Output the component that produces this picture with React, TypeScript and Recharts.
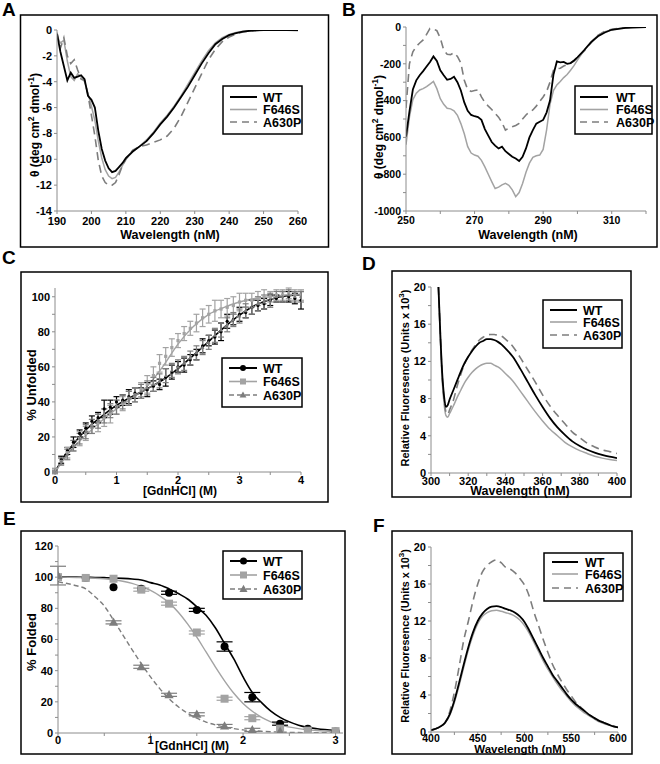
import React from "react";
import {
  LineChart, Line, ComposedChart, Scatter, ErrorBar, XAxis, YAxis,
} from "recharts";

const FONT = "'Liberation Sans', Arial, Helvetica, sans-serif";
const WT_COLOR = "#000000";
const F646S_COLOR = "#a3a3a3";
const A630P_COLOR = "#7d7d7d";
const AXIS_COLOR = "#8c8c8c";
const DASH = "8 5";

// ---- A: far-UV CD (deg cm2 dmol-1, x 10^3) ----
const farUvNm = [190, 191, 192, 193, 194, 195, 196, 197, 198, 199, 200, 201, 202, 203, 204, 205, 206, 207, 208, 209, 210, 212, 214, 216, 218, 220, 222, 224, 226, 228, 230, 232, 234, 236, 238, 240, 242, 244, 246, 248, 250, 255, 260];
const farUvWt = [-0.3, -1.7, -2.8, -3.9, -3.3, -3.7, -3.6, -3.5, -3.8, -5.1, -5.4, -6.0, -7.8, -9.2, -10.1, -10.7, -11.0, -10.9, -10.6, -10.3, -9.9, -9.4, -9.0, -8.6, -8.0, -7.3, -6.7, -6.0, -5.2, -4.4, -3.5, -2.6, -1.8, -1.1, -0.7, -0.4, -0.25, -0.12, -0.06, -0.03, 0, 0, 0];
const farUvF646S = [-0.6, -1.0, -0.8, -2.4, -3.6, -3.9, -3.4, -3.6, -4.0, -4.9, -5.9, -7.0, -8.6, -9.9, -10.8, -11.3, -11.5, -11.4, -11.0, -10.5, -10.0, -9.4, -9.0, -8.5, -7.9, -7.2, -6.6, -5.9, -5.1, -4.2, -3.3, -2.4, -1.6, -1.0, -0.6, -0.35, -0.2, -0.1, -0.05, -0.02, 0, 0, -0.05];
const farUvA630P = [-0.2, -1.4, -0.6, -2.0, -2.6, -2.3, -3.1, -3.8, -3.9, -5.0, -6.6, -8.2, -10.1, -11.3, -11.8, -12.0, -12.0, -11.8, -11.2, -10.5, -10.0, -9.3, -9.0, -8.9, -8.7, -8.5, -8.2, -7.6, -6.7, -5.6, -4.5, -3.4, -2.3, -1.5, -0.9, -0.55, -0.3, -0.15, -0.08, -0.04, 0, 0, 0];
const farUvXTicks = [190, 200, 210, 220, 230, 240, 250, 260];
const farUvYTicks = [-14, -12, -10, -8, -6, -4, -2, 0];

// ---- B: near-UV CD ----
const nearUvNm = [250, 251, 252, 253, 254, 255, 256, 257, 258, 259, 260, 261, 262, 263, 264, 265, 266, 267, 268, 269, 270, 271, 272, 273, 274, 275, 276, 277, 278, 279, 280, 281, 282, 283, 284, 285, 286, 287, 288, 289, 290, 291, 292, 293, 294, 295, 296, 297, 298, 299, 300, 302, 304, 306, 308, 310, 312, 314, 316, 318, 320];
const nearUvWt = [-596, -460, -340, -290, -262, -240, -215, -190, -160, -185, -235, -262, -287, -282, -270, -300, -345, -410, -455, -478, -485, -490, -505, -555, -590, -625, -645, -660, -650, -675, -690, -705, -715, -728, -705, -660, -600, -560, -525, -515, -505, -465, -400, -260, -187, -192, -190, -200, -196, -182, -165, -125, -82, -50, -30, -15, -10, -5, -3, -2, 0];
const nearUvF646S = [-640, -490, -395, -360, -342, -335, -324, -310, -296, -335, -390, -420, -442, -445, -455, -480, -525, -580, -650, -685, -696, -702, -725, -760, -800, -840, -878, -870, -858, -850, -860, -885, -922, -900, -850, -790, -740, -708, -700, -696, -665, -560, -420, -345, -315, -296, -275, -258, -235, -210, -180, -125, -80, -45, -25, -15, -8, -4, -2, -1, 0];
const nearUvA630P = [-440, -200, -135, -105, -87, -70, -40, -8, -10, -20, -60, -125, -148, -150, -140, -160, -195, -290, -340, -350, -345, -342, -380, -410, -430, -448, -470, -490, -520, -560, -550, -542, -535, -524, -500, -478, -462, -451, -430, -405, -380, -351, -300, -235, -228, -224, -212, -205, -196, -185, -165, -130, -85, -45, -22, -12, -8, -4, -2, -1, 0];
const nearUvXTicks = [250, 260, 270, 280, 290, 300, 310, 320];
const nearUvXLabels = [250, 270, 290, 310];
const nearUvYTicks = [-1000, -900, -800, -700, -600, -500, -400, -300, -200, -100, 0];

// ---- C: % unfolded vs GdnHCl ----
const unfoldM = [0, 0.1, 0.2, 0.3, 0.4, 0.5, 0.6, 0.7, 0.8, 0.9, 1.0, 1.1, 1.2, 1.3, 1.4, 1.5, 1.6, 1.7, 1.8, 1.9, 2.0, 2.1, 2.2, 2.3, 2.4, 2.5, 2.6, 2.7, 2.8, 2.9, 3.0, 3.1, 3.2, 3.3, 3.4, 3.5, 3.6, 3.7, 3.8, 3.9, 4.0];
const unfoldWt = [1, 7, 12, 17, 22, 25, 29, 31, 36, 37, 40, 41, 43, 45, 45, 47, 49, 50, 54, 57, 60, 61, 64, 67, 72, 75, 77, 80, 86, 87, 90, 91, 94, 95, 96, 98, 99, 100, 100, 99, 98];
const unfoldWtErr = [1, 2, 2, 3, 2, 3, 3, 3, 5, 4, 3, 3, 4, 3, 3, 4, 3, 3, 5, 4, 3, 4, 3, 3, 4, 3, 4, 5, 4, 3, 4, 3, 4, 3, 3, 3, 2, 3, 3, 3, 5];
const unfoldF646S = [1, 6, 11, 15, 19, 22, 26, 28, 31, 33, 37, 39, 42, 44, 47, 50, 55, 62, 66, 71, 75, 79, 82, 85, 88, 90, 92, 93, 94, 95, 97, 98, 98, 99, 100, 100, 101, 101, 102, 101, 101];
const unfoldF646SErr = [1, 2, 3, 3, 4, 4, 4, 5, 5, 5, 4, 4, 4, 4, 4, 5, 5, 5, 5, 5, 4, 4, 4, 5, 5, 5, 6, 5, 5, 5, 5, 4, 4, 4, 4, 3, 3, 3, 3, 3, 3];
const unfoldA630P = [0, 6, 10, 15, 19, 23, 26, 29, 32, 35, 37, 40, 42, 44, 46, 48, 50, 52, 55, 58, 60, 62, 65, 68, 71, 74, 78, 81, 84, 87, 89, 92, 94, 96, 97, 98, 100, 100, 101, 100, 100];
const unfoldA630PErr = [1, 2, 3, 3, 3, 4, 4, 4, 4, 4, 4, 4, 4, 4, 4, 4, 4, 4, 4, 4, 4, 4, 4, 4, 4, 4, 4, 4, 4, 4, 4, 4, 4, 4, 4, 4, 3, 3, 3, 3, 3];
const unfoldFitM = [0, 0.1, 0.2, 0.3, 0.5, 0.75, 1, 1.25, 1.5, 1.75, 2, 2.25, 2.5, 2.75, 3, 3.25, 3.5, 3.75, 4];
const unfoldFitWt = [0, 6, 11.5, 16, 24, 31.5, 38, 43, 47.5, 52.5, 59, 66.5, 74.5, 82.5, 89.5, 95, 98.5, 100.5, 101];
const unfoldFitF646S = [0, 5, 10, 14, 21, 29, 36, 42, 49, 60, 73, 83, 90, 94, 97, 99, 100, 101, 101.5];
const unfoldFitA630P = [0, 5, 10, 14, 22, 30, 37, 42.5, 47.5, 52.5, 59, 66.5, 74.5, 82.5, 89.5, 95, 98.5, 100.5, 101];
const unfoldXTicks = [0, 0.5, 1, 1.5, 2, 2.5, 3, 3.5, 4];
const unfoldYTicks = [0, 10, 20, 30, 40, 50, 60, 70, 80, 90, 100];

// ---- D: Trp fluorescence ----
const trpNm = [304, 305, 306, 307, 308, 309, 310, 312, 314, 316, 318, 320, 322, 324, 326, 328, 330, 332, 334, 336, 338, 340, 344, 348, 352, 356, 360, 364, 368, 372, 376, 380, 384, 388, 392, 396, 400];
const trpWt = [20, 15, 10.8, 8.3, 7.1, 7.3, 7.9, 8.9, 9.9, 10.9, 11.8, 12.5, 13.1, 13.6, 14.0, 14.2, 14.4, 14.4, 14.3, 14.1, 13.8, 13.4, 12.5, 11.2, 9.8, 8.4, 7.1, 5.9, 4.9, 4.1, 3.4, 2.9, 2.5, 2.2, 1.95, 1.75, 1.6];
const trpF646S = [20, 14.5, 10, 7.5, 6.2, 6.0, 6.4, 7.2, 8.1, 8.9, 9.7, 10.3, 10.8, 11.2, 11.5, 11.7, 11.8, 11.8, 11.6, 11.4, 11.1, 10.7, 9.9, 8.8, 7.7, 6.6, 5.6, 4.7, 4.0, 3.3, 2.8, 2.4, 2.1, 1.8, 1.6, 1.45, 1.35];
const trpA630P = [20, 15, 10.5, 8, 6.6, 6.3, 6.8, 7.8, 9.3, 10.6, 11.7, 12.5, 13.2, 13.8, 14.3, 14.6, 14.8, 14.9, 14.9, 14.8, 14.7, 14.4, 13.6, 12.4, 11.1, 9.8, 8.4, 7.2, 6.2, 5.3, 4.4, 3.8, 3.2, 2.8, 2.5, 2.3, 2.1];
const trpXTicks = [300, 310, 320, 330, 340, 350, 360, 370, 380, 390, 400];
const fluorYTicks = [0, 2, 4, 6, 8, 10, 12, 14, 16, 18, 20];

// ---- E: % folded vs GdnHCl ----
const foldM = [0, 0.3, 0.6, 0.9, 1.2, 1.5, 1.8, 2.1, 2.4, 2.7, 3.0];
const foldWt = [100, 99.5, 93.5, 92.5, 90, 79, 55.5, 23, 6, 2.8, 1];
const foldWtErr = [0, 0, 0, 0, 1, 1, 3, 3, 1, 0, 0];
const foldF646S = [100, 99.5, 99, 92, 83, 64.5, 22, 9.5, 2.8, 1.5, 1.2];
const foldF646SErr = [0, 0, 0, 1, 1, 1, 1, 1, 0, 0, 0];
const foldA630P = [101, null, 71, 42.5, 24.5, 12, 4.5, 2, 1, null, null];
const foldA630PErr = [6, 0, 1, 1, 1, 1, 1, 1, 0, 0, 0];
const foldFitM = [0, 0.2, 0.3, 0.4, 0.5, 0.6, 0.7, 0.8, 0.9, 1.0, 1.1, 1.2, 1.3, 1.4, 1.5, 1.6, 1.7, 1.8, 1.9, 2.0, 2.1, 2.2, 2.3, 2.4, 2.6, 2.8, 3.0];
const foldFitWt = [100, 100, 99.9, 99.8, 99.7, 99.5, 99.2, 98.8, 98.2, 96.5, 95, 92.5, 89.5, 86, 81, 75.5, 67.5, 57.5, 47.5, 36, 26, 19.5, 14, 10, 5, 2.7, 1.6];
const foldFitF646S = [100, 99.8, 99.6, 99.3, 98.9, 98.3, 97.4, 96, 94, 91.5, 88, 83.5, 77.5, 70, 61.5, 52, 42.5, 33.5, 25.5, 19, 14, 10, 7.2, 5.2, 2.8, 1.6, 1];
const foldFitA630P = [97, 94.5, 92.5, 87.5, 81.5, 72.5, 63, 53.5, 44.5, 36, 28.5, 22, 16.8, 12.7, 9.5, 7, 5.2, 3.8, 2.8, 2, 1.5, 1.1, 0.8, 0.6, 0.3, 0.15, 0.1];
const foldXTicks = [0, 0.5, 1, 1.5, 2, 2.5, 3];
const foldYTicks = [0, 10, 20, 30, 40, 50, 60, 70, 80, 90, 100, 110, 120];

// ---- F: ANS fluorescence ----
const ansNm = [400, 405, 410, 415, 420, 425, 430, 435, 440, 445, 450, 455, 460, 465, 470, 475, 480, 485, 490, 495, 500, 505, 510, 515, 520, 525, 530, 535, 540, 545, 550, 555, 560, 565, 570, 575, 580, 585, 590, 595, 600];
const ansWt = [0.2, 0.35, 0.6, 1.0, 1.9, 3.4, 5.3, 7.3, 9.2, 10.8, 12.0, 12.8, 13.3, 13.55, 13.6, 13.5, 13.3, 13.15, 12.9, 12.5, 11.9, 11.0, 10.0, 9.0, 8.0, 7.1, 6.2, 5.5, 4.8, 4.1, 3.5, 3.0, 2.6, 2.2, 1.8, 1.5, 1.2, 1.0, 0.8, 0.6, 0.5];
const ansF646S = [0.2, 0.35, 0.6, 1.0, 1.8, 3.2, 5.0, 7.0, 8.9, 10.5, 11.7, 12.5, 12.9, 13.1, 13.15, 13.05, 12.9, 12.75, 12.5, 12.1, 11.5, 10.7, 9.7, 8.7, 7.7, 6.8, 6.0, 5.2, 4.5, 3.9, 3.3, 2.8, 2.4, 2.0, 1.7, 1.4, 1.1, 0.9, 0.75, 0.6, 0.5];
const ansA630P = [0.15, 0.35, 0.6, 1.0, 2.2, 4.3, 7.0, 9.9, 12.0, 14.2, 16.0, 17.3, 18.0, 18.4, 18.6, 18.3, 17.8, 17.6, 17.2, 16.6, 15.9, 14.7, 13.0, 11.5, 10.0, 8.6, 7.3, 6.3, 5.4, 4.6, 3.9, 3.2, 2.7, 2.2, 1.8, 1.5, 1.2, 1.0, 0.8, 0.65, 0.5];
const ansXTicks = [400, 425, 450, 475, 500, 525, 550, 575, 600];

// layout: chart box = plot area + these paddings
const PAD_L = 50, PAD_T = 10, PAD_R = 10, PAD_B = 30;

type Box = { x0: number; y0: number; x1: number; y1: number };

const tickStyle = { fontSize: 11, fontWeight: 700, fill: "#000", fontFamily: FONT };
const axisCommon = {
  type: "number" as const,
  stroke: AXIS_COLOR,
  tickSize: 3,
  tickMargin: 2,
  interval: 0 as const,
  allowDataOverflow: true,
};

function zip(xs: number[], wt: any[], f: any[], a: any[]) {
  return xs.map((x, i) => ({ x, wt: wt[i], f646s: f[i], a630p: a[i] }));
}

function pts(xs: number[], ys: any[], errs: number[]) {
  return xs.map((x, i) => ({ x, y: ys[i], e: errs[i] })).filter((d) => d.y != null);
}

function line(xs: number[], ys: number[]) {
  return xs.map((x, i) => ({ x, y: ys[i] }));
}

function place(b: Box): React.CSSProperties {
  return { position: "absolute", left: b.x0 - PAD_L, top: b.y0 - PAD_T };
}
const dims = (b: Box) => ({
  width: b.x1 - b.x0 + PAD_L + PAD_R,
  height: b.y1 - b.y0 + PAD_T + PAD_B,
});
const margin = { top: PAD_T, right: PAD_R, left: 0, bottom: 0 };

const only = (labels: number[]) => (v: number) => (labels.includes(v) ? String(v) : "");
const everyN = (n: number) => (v: number) => (Math.abs(v % n) < 1e-9 ? String(v) : "");

function marker(kind: string, cx: number, cy: number, r: number, color: string) {
  if (kind === "circle") return <circle cx={cx} cy={cy} r={r} fill={color} />;
  if (kind === "square") return <rect x={cx - r} y={cy - r} width={2 * r} height={2 * r} fill={color} />;
  return (
    <polygon
      points={`${cx},${cy - r * 1.2} ${cx + r * 1.15},${cy + r * 0.85} ${cx - r * 1.15},${cy + r * 0.85}`}
      fill={color}
    />
  );
}

const shape = (kind: string, r: number, color: string) => (p: any) =>
  p.cx == null ? <g /> : marker(kind, p.cx, p.cy, r, color);

const BOX_A: Box = { x0: 57, y0: 30, x1: 298, y1: 211 };
const BOX_B: Box = { x0: 406, y0: 27, x1: 646, y1: 211 };
const BOX_C: Box = { x0: 55, y0: 288, x1: 301, y1: 472 };
const BOX_D: Box = { x0: 431, y0: 287, x1: 617, y1: 473 };
const BOX_E: Box = { x0: 58, y0: 546, x1: 343, y1: 733 };
const BOX_F: Box = { x0: 431, y0: 547, x1: 618, y1: 732 };

function SpectrumChart({ box, data, xDomain, xTicks, xFmt, yDomain, yTicks, yFmt, curve, xGap = 2, fs = 11, xfs }: any) {
  const tick = { ...tickStyle, fontSize: fs };
  const xTick = { ...tickStyle, fontSize: xfs ?? fs };
  return (
    <div style={place(box)}>
      <LineChart {...dims(box)} data={data} margin={margin}>
        <XAxis {...axisCommon} tick={xTick} tickMargin={xGap} dataKey="x" domain={xDomain} ticks={xTicks} tickFormatter={xFmt} height={PAD_B} />
        <YAxis {...axisCommon} tick={tick} domain={yDomain} ticks={yTicks} tickFormatter={yFmt} width={PAD_L} />
        <Line dataKey="f646s" type={curve} stroke={F646S_COLOR} strokeWidth={1.5} dot={false} isAnimationActive={false} />
        <Line dataKey="a630p" type={curve} stroke={A630P_COLOR} strokeWidth={1.6} strokeDasharray={DASH} dot={false} isAnimationActive={false} />
        <Line dataKey="wt" type={curve} stroke={WT_COLOR} strokeWidth={1.8} dot={false} isAnimationActive={false} />
      </LineChart>
    </div>
  );
}

function TitrationChart({ box, xDomain, xTicks, yDomain, yTicks, fits, points, r, cap, xGap = 2 }: any) {
  const colors = [WT_COLOR, F646S_COLOR, A630P_COLOR];
  const kinds = ["circle", "square", "triangle"];
  return (
    <div style={place(box)}>
      <ComposedChart {...dims(box)} margin={margin}>
        <XAxis {...axisCommon} tick={tickStyle} tickMargin={xGap} dataKey="x" domain={xDomain} ticks={xTicks} tickFormatter={everyN(1)} height={PAD_B} />
        <YAxis {...axisCommon} tick={tickStyle} domain={yDomain} ticks={yTicks} tickFormatter={everyN(20)} width={PAD_L} />
        {fits.map((f: any, i: number) => (
          <Line
            key={"fit" + i}
            data={f}
            dataKey="y"
            type="monotone"
            stroke={colors[i]}
            strokeWidth={i === 0 ? 1.6 : 1.4}
            strokeDasharray={i === 2 ? "5 3" : undefined}
            dot={false}
            isAnimationActive={false}
          />
        ))}
        {points.map((p: any, i: number) => (
          <Scatter key={"pts" + i} data={p} dataKey="y" shape={shape(kinds[i], r, colors[i])} isAnimationActive={false}>
            <ErrorBar dataKey="e" direction="y" width={cap} stroke={colors[i]} strokeWidth={1.2} />
          </Scatter>
        ))}
      </ComposedChart>
    </div>
  );
}

const SERIES = [
  { label: "WT", color: WT_COLOR, width: 2, dash: undefined, kind: "circle" },
  { label: "F646S", color: F646S_COLOR, width: 1.6, dash: undefined, kind: "square" },
  { label: "A630P", color: A630P_COLOR, width: 1.6, dash: "7 5", kind: "triangle" },
];

function LegendBox({ x, y, w, h, l0, l1, tx, rows, mr }: any) {
  return (
    <g>
      <rect x={x} y={y} width={w} height={h} fill="#fff" stroke="#000" strokeWidth={1.5} />
      {SERIES.map((s, i) => (
        <g key={s.label}>
          <line x1={l0} x2={l1} y1={rows[i]} y2={rows[i]} stroke={s.color} strokeWidth={s.width} strokeDasharray={mr ? (i === 2 ? "5 3" : undefined) : s.dash} />
          {mr ? marker(s.kind, (l0 + l1) / 2, rows[i], mr, s.color) : null}
          <text x={tx} y={rows[i] + 4.5} fontSize={12.5} fontWeight={700} fill="#000">{s.label}</text>
        </g>
      ))}
    </g>
  );
}

function Title({ x, y, children, size = 12.5 }: any) {
  return (
    <text x={x} y={y} textAnchor="middle" fontSize={size} fontWeight={700} fill="#000">{children}</text>
  );
}

function VTitle({ x, y, children, size = 12.5 }: any) {
  return (
    <text x={x} y={y} textAnchor="middle" fontSize={size} fontWeight={700} fill="#000" transform={`rotate(-90 ${x} ${y})`}>
      {children}
    </text>
  );
}

const cdTitle = (
  <>
    θ (deg cm<tspan dy={-5} fontSize={8.5}>2</tspan>
    <tspan dy={5}> dmol</tspan>
    <tspan dy={-5} fontSize={8.5}>-1</tspan>
    <tspan dy={5}>)</tspan>
  </>
);
const fluorTitle = (
  <>
    Relative Fluoresence (Units x 10<tspan dy={-5} fontSize={8}>3</tspan>
    <tspan dy={5}>)</tspan>
  </>
);

export default function App() {
  return (
    <div style={{ position: "absolute", left: 0, top: 0, width: 660, height: 764, background: "#fff", fontFamily: FONT }}>
      <SpectrumChart
        box={BOX_A}
        data={zip(farUvNm, farUvWt, farUvF646S, farUvA630P)}
        xDomain={[190, 260]}
        xTicks={farUvXTicks}
        yDomain={[-14, 0]}
        yTicks={farUvYTicks}
        curve="linear"
        xGap={3}
      />
      <SpectrumChart
        box={BOX_B}
        data={zip(nearUvNm, nearUvWt, nearUvF646S, nearUvA630P)}
        xDomain={[250, 320]}
        xTicks={nearUvXTicks}
        xFmt={only(nearUvXLabels)}
        yDomain={[-1000, 0]}
        yTicks={nearUvYTicks}
        yFmt={everyN(200)}
        curve="linear"
        xGap={3}
        fs={10.5}
      />
      <TitrationChart
        box={BOX_C}
        xDomain={[0, 4]}
        xTicks={unfoldXTicks}
        yDomain={[0, 105]}
        yTicks={unfoldYTicks}
        fits={[line(unfoldFitM, unfoldFitWt), line(unfoldFitM, unfoldFitF646S), line(unfoldFitM, unfoldFitA630P)]}
        points={[
          pts(unfoldM, unfoldWt, unfoldWtErr),
          pts(unfoldM, unfoldF646S, unfoldF646SErr),
          pts(unfoldM, unfoldA630P, unfoldA630PErr),
        ]}
        r={1.6}
        cap={3}
        xGap={1.5}
      />
      <SpectrumChart
        box={BOX_D}
        data={zip(trpNm, trpWt, trpF646S, trpA630P)}
        xDomain={[300, 400]}
        xTicks={trpXTicks}
        xFmt={everyN(20)}
        yDomain={[0, 20]}
        yTicks={fluorYTicks}
        yFmt={everyN(4)}
        curve="monotone"
        xGap={1}
      />
      <TitrationChart
        box={BOX_E}
        xDomain={[0, 3.08]}
        xTicks={foldXTicks}
        yDomain={[0, 120]}
        yTicks={foldYTicks}
        fits={[line(foldFitM, foldFitWt), line(foldFitM, foldFitF646S), line(foldFitM, foldFitA630P)]}
        points={[
          pts(foldM, foldWt, foldWtErr),
          pts(foldM, foldF646S, foldF646SErr),
          pts(foldM, foldA630P, foldA630PErr),
        ]}
        r={4}
        cap={8}
        xGap={0}
      />
      <SpectrumChart
        box={BOX_F}
        data={zip(ansNm, ansWt, ansF646S, ansA630P)}
        xDomain={[400, 600]}
        xTicks={ansXTicks}
        xFmt={everyN(50)}
        yDomain={[0, 20]}
        yTicks={fluorYTicks}
        yFmt={everyN(4)}
        curve="monotone"
        xGap={0}
        xfs={10.5}
      />

      <svg width={660} height={764} style={{ position: "absolute", left: 0, top: 0, pointerEvents: "none" }} fontFamily={FONT}>
        {/* panel frames */}
        <rect x={20.5} y={15} width={308} height={232} fill="none" stroke="#000" strokeWidth={1.5} />
        <rect x={362} y={15} width={295} height={232} fill="none" stroke="#000" strokeWidth={1.5} />
        <rect x={21} y={272} width={307} height={230} fill="none" stroke="#000" strokeWidth={1.5} />
        <rect x={392} y={271} width={239} height={226} fill="none" stroke="#000" strokeWidth={1.5} />
        <rect x={21} y={531} width={324} height={223} fill="none" stroke="#000" strokeWidth={1.5} />
        <rect x={392} y={531} width={240} height={223} fill="none" stroke="#000" strokeWidth={1.5} />

        {/* panel letters */}
        <g fontSize={19} fontWeight={700} fill="#000">
          <text x={2} y={16}>A</text>
          <text x={342} y={16}>B</text>
          <text x={2} y={264}>C</text>
          <text x={362} y={270}>D</text>
          <text x={3} y={525}>E</text>
          <text x={373} y={532}>F</text>
        </g>

        {/* axis titles */}
        <Title x={170} y={239}>Wavelength (nM)</Title>
        <Title x={528} y={239}>Wavelength (nM)</Title>
        <Title x={180} y={495} size={12}>[GdnHCl] (M)</Title>
        <Title x={520} y={495}>Wavelength (nM)</Title>
        <Title x={192} y={750} size={12}>[GdnHCl] (M)</Title>
        <Title x={520} y={753} size={11.5}>Wavelength (nM)</Title>

        <VTitle x={39} y={125} size={12}>{cdTitle}</VTitle>
        <VTitle x={383} y={127} size={12}>{cdTitle}</VTitle>
        <VTitle x={36} y={385} size={13}>% Unfolded</VTitle>
        <VTitle x={409} y={378} size={11}>{fluorTitle}</VTitle>
        <VTitle x={36} y={642} size={13}>% Folded</VTitle>
        <VTitle x={409} y={636} size={10.8}>{fluorTitle}</VTitle>

        {/* legends */}
        <LegendBox x={223} y={86} w={79} h={48} l0={230} l1={257} tx={263} rows={[97, 109.5, 122]} />
        <LegendBox x={575} y={86} w={77} h={48} l0={580} l1={608} tx={616} rows={[97, 109.5, 122]} />
        <LegendBox x={222} y={358} w={80} h={49} l0={229} l1={257} tx={263} rows={[368, 381.5, 395]} mr={3} />
        <LegendBox x={543} y={300} w={79} h={48} l0={550} l1={577} tx={583} rows={[310, 322, 335]} />
        <LegendBox x={223} y={551} w={79} h={48} l0={230} l1={257} tx={263} rows={[561, 575, 589]} mr={3.5} />
        <LegendBox x={544} y={553} w={79} h={48} l0={552} l1={578} tx={585} rows={[562, 574, 588]} />
      </svg>
    </div>
  );
}
